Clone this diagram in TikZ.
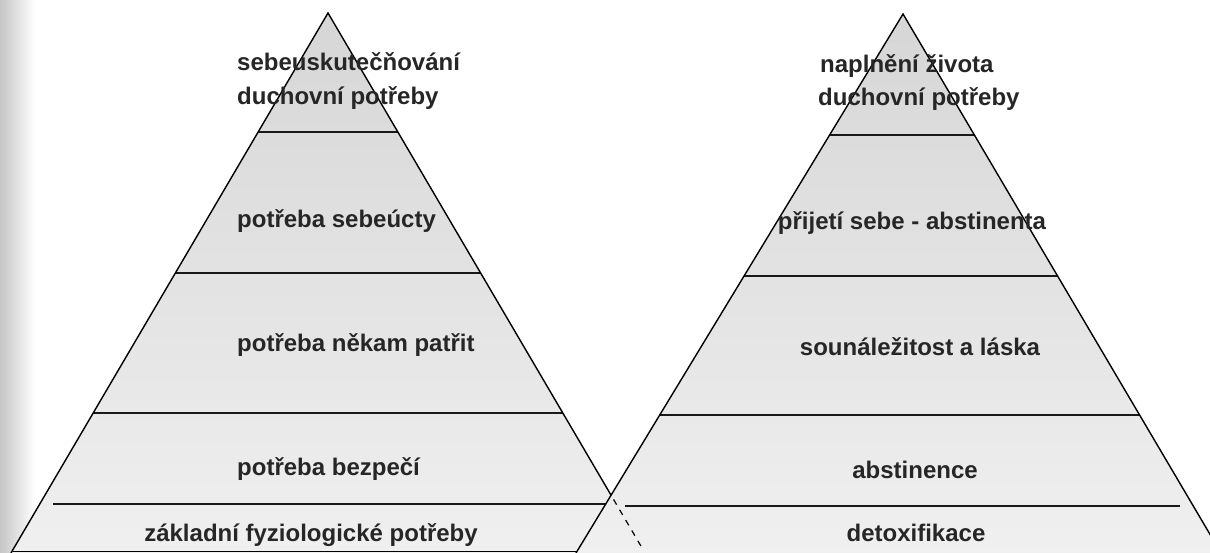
\documentclass[tikz,border=0pt]{standalone}
\usepackage{fontspec}
\setmainfont{Liberation Sans}
\usetikzlibrary{calc}
\begin{document}
\begin{tikzpicture}[x=1pt,y=-1pt,
  edge/.style={line width=1.4pt, black},
  rung/.style={line width=2pt, black!90},
  hidden/.style={line width=1.2pt, black, dash pattern=on 6pt off 6pt},
  pyr/.style={top color=gray!32, bottom color=gray!12},
  lbl/.style={font=\bfseries\fontsize{24}{28}\selectfont, text=black!85, inner sep=0pt}]
\useasboundingbox (0,0) rectangle (1210,553);
\fill[white] (0,0) rectangle (1210,553);
\shade[left color=gray!45, right color=white] (0,0) rectangle (35,553);
\begin{scope}
\clip (0,0) rectangle (1210,553);
% left pyramid
\coordinate (A1) at (328,13);
\coordinate (BL1) at (11,553);
\coordinate (BR1) at (645,553);
\coordinate (X) at ($(A1)!0.8926!(BR1)$);
\shade[pyr] (A1) -- (BL1) -- (BR1) -- cycle;
\draw[rung] ($(A1)!0.2204!(BL1)$) -- ($(A1)!0.2204!(BR1)$);
\draw[rung] ($(A1)!0.4815!(BL1)$) -- ($(A1)!0.4815!(BR1)$);
\draw[rung] ($(A1)!0.7407!(BL1)$) -- ($(A1)!0.7407!(BR1)$);
\coordinate (R4a) at (53,504);
\coordinate (R4b) at (625,504);
\draw[rung] (R4a) -- (R4b);
\draw[line width=1pt] (13,551) -- (600,551);
\draw[edge] (BL1) -- (A1) -- (X);
% right pyramid
\coordinate (A2) at (903,14);
\coordinate (BL2) at (576,553);
\coordinate (BR2) at (1221,553);
\shade[pyr] (A2) -- (BL2) -- (BR2) -- cycle;
\draw[rung] ($(A2)!0.2245!(BL2)$) -- ($(A2)!0.2245!(BR2)$);
\draw[rung] ($(A2)!0.4861!(BL2)$) -- ($(A2)!0.4861!(BR2)$);
\draw[rung] ($(A2)!0.7440!(BL2)$) -- ($(A2)!0.7440!(BR2)$);
\coordinate (S4a) at (625,506);
\coordinate (S4b) at (1180,506);
\draw[rung] (S4a) -- (S4b);
\draw[edge] (BL2) -- (A2) -- (BR2);
% hidden part of left pyramid edge
\coordinate (Xe) at ($(A1)!0.995!(BR1)$);
\draw[hidden] ($(X)!0.08!(Xe)$) -- (Xe);
\end{scope}
% labels left
\node[lbl, anchor=base west] (l1) at (237,71) {sebeuskutečňování};
\node[lbl, anchor=base west] (l2) at (237,105) {duchovní potřeby};
\node[lbl, anchor=base west] (l3) at (237,228) {potřeba sebeúcty};
\node[lbl, anchor=base west] (l4) at (237,351) {potřeba někam patřit};
\node[lbl, anchor=base west] (l5) at (237,475) {potřeba bezpečí};
\node[lbl, anchor=base] (l6) at (311,541) {základní fyziologické potřeby};
% labels right
\node[lbl, anchor=base west] (r1) at (820,73) {naplnění života};
\node[lbl, anchor=base west] (r2) at (818,106) {duchovní potřeby};
\node[lbl, anchor=base] (r3) at (912,230) {přijetí sebe - abstinenta};
\node[lbl, anchor=base] (r4) at (920,355) {sounáležitost a láska};
\node[lbl, anchor=base] (r5) at (915,478) {abstinence};
\node[lbl, anchor=base] (r6) at (916,541) {detoxifikace};
\end{tikzpicture}
\end{document}
